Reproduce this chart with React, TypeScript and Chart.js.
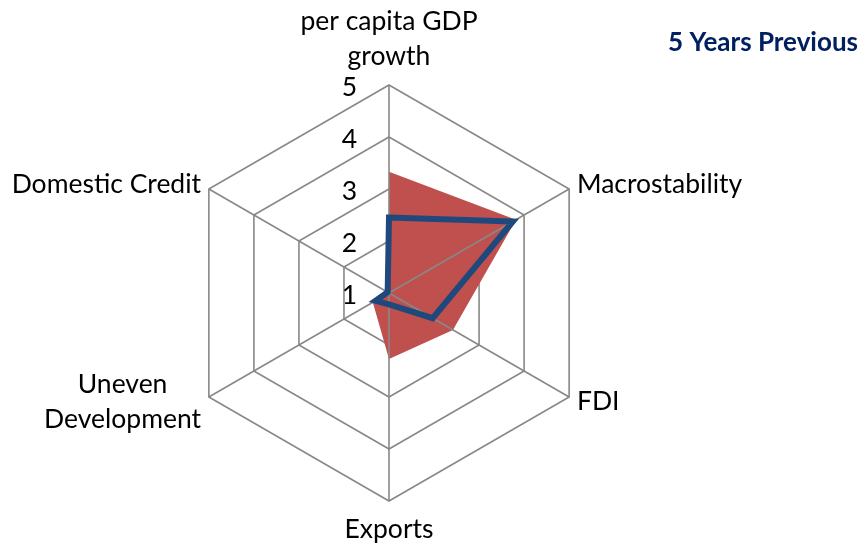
import React, { useEffect, useRef } from "react";
import { Chart, registerables } from "chart.js";

Chart.register(...registerables);

const categories: string[][] = [
  ["per capita GDP", "growth"],
  ["Macrostability"],
  ["FDI"],
  ["Exports"],
  ["Uneven", "Development"],
  ["Domestic Credit"],
];
const tickValues = [1, 2, 3, 4, 5];
const redSeries = [3.33, 3.82, 2.42, 2.27, 1.36, 1.0];
const blueSeries = [2.45, 3.75, 1.97, 1.22, 1.3, 1.03];
const titleText = "5 Years Previous";

const FONT = "Lato, 'Open Sans', sans-serif";
const GRID = "#888888";

const overlayPlugin = {
  id: "overlay",
  afterDatasetDraw(chart: any, args: any) {
    if (args.index !== 1) return;
    const s = chart.scales.r;
    const ctx = chart.ctx;
    ctx.save();
    ctx.strokeStyle = GRID;
    ctx.lineWidth = 1.6;
    for (let i = 0; i < categories.length; i++) {
      const p = s.getPointPosition(i, s.drawingArea);
      ctx.beginPath();
      ctx.moveTo(s.xCenter, s.yCenter);
      ctx.lineTo(p.x, p.y);
      ctx.stroke();
    }
    ctx.restore();
  },
  afterDraw(chart: any) {
    const s = chart.scales.r;
    const ctx = chart.ctx;
    ctx.save();
    ctx.fillStyle = "#000";
    ctx.font = `26.5px ${FONT}`;
    ctx.textAlign = "right";
    ctx.textBaseline = "middle";
    tickValues.forEach((v) => {
      const d = s.getDistanceFromCenterForValue(v);
      ctx.fillText(String(v), s.xCenter - 32, s.yCenter - d + 2);
    });

    const lh = 35;
    categories.forEach((lines, i) => {
      ctx.font = `26.5px ${FONT}`;
      ctx.textBaseline = "middle";
      if (i === 0) {
        const p = s.getPointPosition(i, s.drawingArea + 29);
        ctx.textAlign = "center";
        lines.forEach((t, k) => {
          ctx.fillText(t, p.x, p.y - (lines.length - 1 - k) * lh);
        });
      } else if (i === 3) {
        const p = s.getPointPosition(i, s.drawingArea + 28);
        ctx.textAlign = "center";
        lines.forEach((t, k) => ctx.fillText(t, p.x, p.y + k * lh));
      } else {
        const p = s.getPointPosition(i, s.drawingArea + 9);
        const right = p.x < s.xCenter;
        const widths = lines.map((t) => ctx.measureText(t).width);
        const maxW = Math.max(...widths);
        const cx = right ? p.x - maxW / 2 : p.x + maxW / 2;
        ctx.textAlign = "center";
        const y0 = p.y - ((lines.length - 1) * lh) / 2;
        lines.forEach((t, k) => ctx.fillText(t, cx, y0 + k * lh));
      }
    });

    ctx.font = `bold 26px ${FONT}`;
    ctx.fillStyle = "#002060";
    ctx.textAlign = "right";
    ctx.textBaseline = "middle";
    ctx.fillText(titleText, 858, 43);
    ctx.restore();
  },
};

export default function App() {
  const ref = useRef<HTMLCanvasElement>(null);
  useEffect(() => {
    if (!ref.current) return;
    const chart = new Chart(ref.current, {
      type: "radar",
      data: {
        labels: categories,
        datasets: [
          {
            label: "Blue",
            data: blueSeries,
            borderColor: "#1F497D",
            backgroundColor: "rgba(0,0,0,0)",
            borderWidth: 6,
            fill: false,
            pointRadius: 0,
            borderJoinStyle: "miter",
          },
          {
            label: "Red",
            data: redSeries,
            borderColor: "#C0504D",
            backgroundColor: "#C0504D",
            borderWidth: 0,
            fill: true,
            pointRadius: 0,
          },
        ],
      },
      options: {
        animation: false,
        responsive: false,
        layout: { padding: { left: 181, right: 268, top: 85, bottom: 43 } },
        plugins: { legend: { display: false }, tooltip: { enabled: false }, title: { display: false } },
        elements: { line: { tension: 0 } },
        scales: {
          r: {
            min: 1,
            max: 5,
            beginAtZero: false,
            ticks: { display: false, stepSize: 1 },
            pointLabels: { display: false },
            angleLines: { display: false },
            grid: { color: GRID, lineWidth: 1.6 },
          },
        },
      },
      plugins: [overlayPlugin],
    });
    return () => chart.destroy();
  }, []);
  return (
    <div style={{ position: "absolute", left: 0, top: 0, width: 865, height: 544, background: "#fff" }}>
      <canvas ref={ref} width={865} height={544} style={{ display: "block" }} />
    </div>
  );
}
